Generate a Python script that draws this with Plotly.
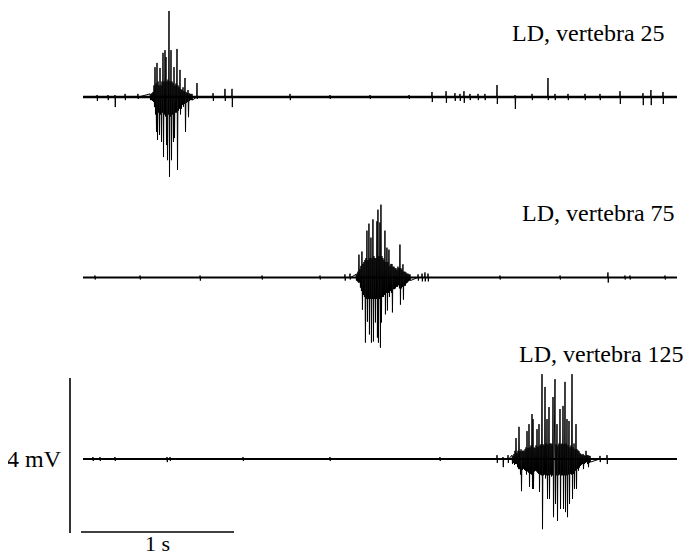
import plotly.graph_objects as go

# ---------------- data (time in s, voltage in mV) ----------------
T_START = 0.0
T_END = 3.882
DT = 1.0 / 153.0  # sampling step of the burst tables (s)

# Trace 1: LD, vertebra 25
burst1_t0 = 0.438
burst1_up = [0.08,0.08,0.10,0.13,0.30,0.77,0.35,0.88,0.40,0.30,0.75,0.30,0.40,1.14,0.40,1.21,1.03,0.40,0.45,2.22,
             0.40,1.21,0.40,0.35,0.77,0.30,0.35,1.24,0.30,0.25,0.70,0.20,0.18,0.25,0.15,0.49,0.13,0.10,0.18,0.10,
             0.08,0.08,0.08]
burst1_down = [0.08,0.08,0.10,0.13,0.26,0.45,0.90,1.11,0.40,0.98,0.45,1.16,0.40,1.55,0.45,0.50,1.24,1.63,0.45,2.06,
               0.50,1.63,0.45,1.16,1.06,0.40,0.40,1.88,0.35,0.30,0.45,0.30,0.20,0.25,0.18,0.90,0.15,0.13,0.52,0.10,
               0.08,0.08,0.08]
blips1_t = [0.092,0.163,0.209,0.275,0.359,0.745,0.850,0.928,0.974,1.353,1.614,1.876,2.131,2.281,2.373,2.431,2.464,
            2.490,2.529,2.582,2.627,2.706,2.824,2.935,3.039,3.085,3.170,3.281,3.379,3.510,3.660,3.712,3.791]
blips1_up = [0.05,0.05,0.05,0.08,0.08,0.36,0.10,0.21,0.21,0.08,0.05,0.05,0.05,0.13,0.15,0.10,0.08,
             0.15,0.08,0.08,0.08,0.31,0.05,0.08,0.49,0.08,0.08,0.08,0.08,0.15,0.10,0.18,0.13]
blips1_down = [0.10,0.08,0.26,0.08,0.05,0.05,0.10,0.10,0.26,0.08,0.05,0.05,0.05,0.13,0.15,0.10,0.10,
               0.15,0.08,0.08,0.08,0.18,0.31,0.08,0.08,0.08,0.08,0.08,0.08,0.18,0.21,0.21,0.18]

# Trace 2: LD, vertebra 75
burst2_t0 = 1.784
burst2_up = [0.08,0.10,0.15,0.59,0.21,0.30,0.67,0.35,0.40,0.45,0.50,1.21,0.45,1.39,0.50,1.03,0.50,1.50,0.55,0.50,
             0.50,1.45,1.75,0.55,1.42,1.88,0.55,0.50,0.45,1.21,0.40,0.77,0.40,0.72,0.30,0.35,0.35,0.28,0.28,0.24,
             0.24,0.20,0.28,0.24,0.85,0.24,0.20,0.34,0.15,0.15,0.13,0.10,0.10,0.08,0.08]
burst2_down = [0.08,0.10,0.13,0.13,0.26,0.35,0.83,0.45,0.50,1.68,0.55,1.14,0.55,1.47,0.55,1.68,0.55,1.65,0.55,1.16,
               0.55,1.55,1.68,0.55,1.81,1.16,0.50,0.50,0.45,0.95,0.40,0.85,0.40,0.50,0.35,0.40,0.90,0.30,0.30,0.28,
               0.24,0.24,0.20,0.28,0.70,0.28,0.24,0.57,0.21,0.21,0.15,0.13,0.10,0.08,0.08]
blips2_t = [0.078,0.373,0.765,1.170,1.549,1.712,1.745,2.190,2.216,2.235,2.255,2.725,3.118,3.431,3.542,3.575,3.804]
blips2_up = [0.05,0.05,0.05,0.05,0.05,0.08,0.10,0.08,0.10,0.13,0.10,0.05,0.05,0.13,0.05,0.05,0.05]
blips2_down = [0.05,0.05,0.08,0.05,0.05,0.08,0.05,0.08,0.10,0.10,0.10,0.05,0.05,0.13,0.05,0.05,0.05]

# Trace 3: LD, vertebra 125
burst3_t0 = 2.804
burst3_up = [0.10,0.08,0.13,0.21,0.54,0.15,0.21,0.83,0.20,0.25,
             0.20,0.22,0.20,0.25,0.30,0.72,0.28,0.90,0.30,0.35,
             1.16,1.03,0.30,0.28,0.35,0.77,0.32,0.90,0.35,0.38,
             2.19,0.38,0.35,1.86,0.40,1.03,0.38,1.34,0.40,0.40,
             0.38,1.60,0.40,2.06,0.38,0.90,0.35,0.40,1.29,0.38,
             0.40,1.37,0.38,1.99,0.40,1.03,0.35,0.98,0.30,0.35,
             2.19,0.30,0.40,0.25,0.90,0.25,0.22,0.20,0.15,0.13,
             0.10,0.13,0.10,0.08,0.21,0.10,0.10,0.08,0.08]
burst3_down = [0.13,0.10,0.15,0.13,0.13,0.21,0.26,0.26,0.40,0.83,
               0.28,0.25,0.28,0.30,0.40,0.32,0.35,0.72,0.38,0.40,
               0.77,0.77,0.32,0.30,0.32,0.35,0.38,0.85,0.40,0.42,
               1.81,0.42,0.40,0.50,0.42,1.03,0.42,1.03,0.40,0.45,
               0.42,1.50,0.42,1.16,0.42,1.60,0.42,0.40,1.29,0.42,
               0.42,1.29,0.42,1.37,0.42,1.50,0.40,1.16,0.38,0.40,
               1.03,0.38,0.77,0.30,0.77,0.25,0.30,0.22,0.18,0.15,
               0.13,0.26,0.13,0.10,0.08,0.13,0.21,0.10,0.08]
blips3_t = [0.065,0.111,0.209,0.549,0.569,1.046,1.614,2.333,2.706,2.745,2.778,3.379,3.425]
blips3_up = [0.05,0.05,0.05,0.05,0.05,0.05,0.05,0.05,0.10,0.05,0.10,0.08,0.10]
blips3_down = [0.05,0.05,0.05,0.08,0.05,0.05,0.05,0.05,0.10,0.21,0.10,0.08,0.13]

labels = ["LD, vertebra 25", "LD, vertebra 75", "LD, vertebra 125"]
SCALE_MV = 4
SCALE_S = 1
SCALE_MV_LABEL = "4 mV"
SCALE_S_LABEL = "1 s"

# ---------------- layout (reference-pixel based) ----------------
W, H = 692, 558
PAGE_OFF = 8          # default body margin of the html page
PX_PER_S = 153.0
PX_PER_MV = 38.75
X0_PX = 83.0          # reference pixel of t = 0
Y0_PX = 459.0         # reference pixel of v = 0 (bottom trace)


def tx(px):
    return (px - X0_PX) / PX_PER_S


def vy(py):
    return (Y0_PX - py) / PX_PER_MV


x_range = [tx(PAGE_OFF), tx(W)]
y_range = [vy(H), vy(PAGE_OFF)]
offsets = [vy(97.0), vy(277.5), 0.0]
baseline_w = [2.6, 2.0, 2.0]
label_y_px = [33, 213, 354]
label_center_px = [588, 598, 601]
FONT = "Liberation Serif, Times New Roman, serif"
FS = 24


def build(t0, ups, downs, bt, bu, bd):
    segs = []
    seg = []
    for i, (u, d) in enumerate(zip(ups, downs)):
        t = t0 + i * DT
        seg.append((t, u))
        seg.append((t + DT / 2, -d))
    segs.append(seg)
    for t, u, d in zip(bt, bu, bd):
        segs.append([(t - 0.002, 0.0), (t, u), (t + 0.002, -d), (t + 0.004, 0.0)])
    segs.sort(key=lambda s: s[0][0])
    pts = [(T_START, 0.0)]
    for s in segs:
        pts.extend(s)
    pts.append((T_END, 0.0))
    return [p[0] for p in pts], [p[1] for p in pts]


series = [
    (burst1_t0, burst1_up, burst1_down, blips1_t, blips1_up, blips1_down),
    (burst2_t0, burst2_up, burst2_down, blips2_t, blips2_up, blips2_down),
    (burst3_t0, burst3_up, burst3_down, blips3_t, blips3_up, blips3_down),
]

fig = go.Figure()
for k, s in enumerate(series):
    xs, ys = build(*s)
    off = offsets[k]
    fig.add_trace(go.Scatter(x=[T_START, T_END], y=[off, off], mode="lines",
                             line=dict(color="black", width=baseline_w[k]), hoverinfo="skip",
                             showlegend=False))
    fig.add_trace(go.Scatter(x=xs, y=[v + off for v in ys], mode="lines",
                             line=dict(color="black", width=1), showlegend=False))
    fig.add_annotation(x=tx(label_center_px[k]), y=vy(label_y_px[k]),
                       text=labels[k], showarrow=False, xanchor="center", yanchor="middle",
                       font=dict(family=FONT, size=FS, color="black"))

# scale bars
bar_x = tx(70)
bar_bottom = vy(533)
fig.add_trace(go.Scatter(x=[bar_x, bar_x], y=[bar_bottom, bar_bottom + SCALE_MV], mode="lines",
                         line=dict(color="black", width=1.6), showlegend=False, hoverinfo="skip"))
hbar_y = vy(532)
hbar_x0 = tx(81)
fig.add_trace(go.Scatter(x=[hbar_x0, hbar_x0 + SCALE_S], y=[hbar_y, hbar_y], mode="lines",
                         line=dict(color="black", width=1.6), showlegend=False, hoverinfo="skip"))
fig.add_annotation(x=tx(64), y=0, text=SCALE_MV_LABEL, showarrow=False,
                   xanchor="right", yanchor="middle", font=dict(family=FONT, size=FS, color="black"))
fig.add_annotation(x=hbar_x0 + SCALE_S / 2, y=vy(558), text=SCALE_S_LABEL,
                   showarrow=False, xanchor="center", yanchor="bottom",
                   font=dict(family=FONT, size=22, color="black"))

fig.update_layout(
    width=W - PAGE_OFF, height=H - PAGE_OFF,
    margin=dict(l=0, r=0, t=0, b=0),
    paper_bgcolor="white", plot_bgcolor="white",
    xaxis=dict(range=x_range, visible=False, fixedrange=True),
    yaxis=dict(range=y_range, visible=False, fixedrange=True),
    showlegend=False,
)

fig.write_html("out.html")
